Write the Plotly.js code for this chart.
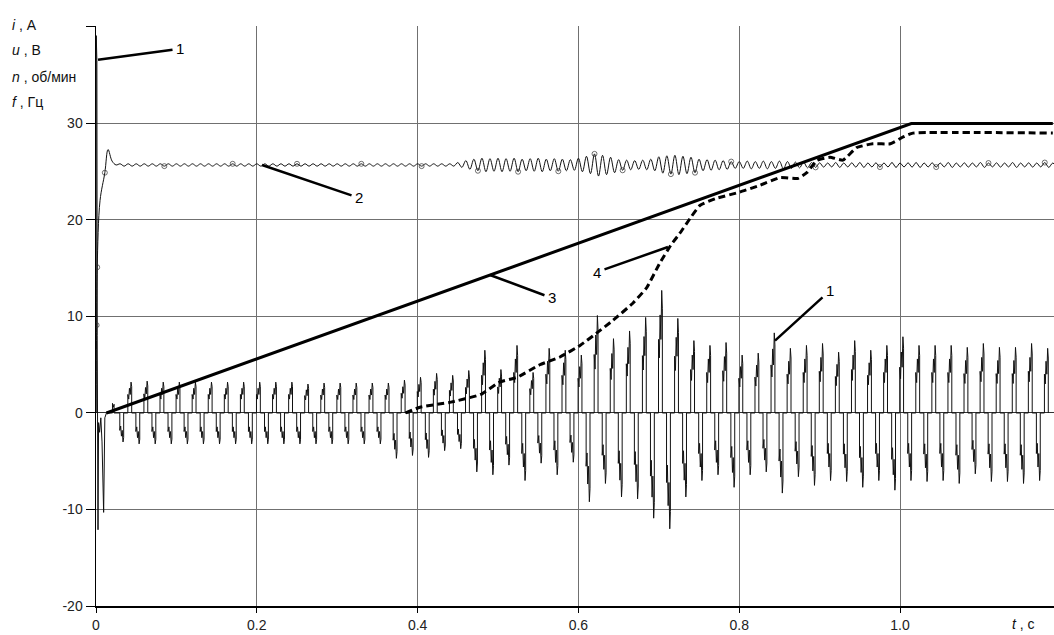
<!DOCTYPE html>
<html><head><meta charset="utf-8">
<script src="https://cdn.plot.ly/plotly-3.0.1.min.js"></script>
<style>html,body{margin:0;padding:0;background:#fff}</style>
</head><body><div id="chart" style="width:1054px;height:635px"></div>
<script>
// ---------- data ----------
const xTicks = [0, 0.2, 0.4, 0.6, 0.8, 1.0];
const xTickLabels = ['0', '0.2', '0.4', '0.6', '0.8', '1.0'];
const yTicks = [-20, -10, 0, 10, 20, 30, 40];
const yTickLabels = ['-20', '-10', '0', '10', '20', '30', ''];

// curve 3: frequency f, Hz
const fT = [0.013, 1.014, 1.19];
const fV = [0, 30, 30];

// curve 4: speed n
const nT = [0.385, 0.403, 0.44, 0.478, 0.502, 0.524, 0.552, 0.577, 0.602, 0.623, 0.643, 0.668, 0.685, 0.701, 0.715, 0.726, 0.74, 0.751, 0.77, 0.801, 0.826, 0.851, 0.873, 0.884, 0.897, 0.913, 0.929, 0.946, 0.966, 0.988, 1.004, 1.016, 1.19];
const nV = [0, 0.6, 1.1, 1.9, 3.2, 3.7, 5.0, 5.8, 7.0, 8.3, 9.6, 11.4, 13.0, 15.5, 17.4, 18.6, 20.3, 21.5, 22.2, 22.9, 23.6, 24.4, 24.3, 24.9, 26.2, 26.5, 26.2, 27.5, 27.9, 27.9, 28.6, 29.0, 29.0];

// curve 2: voltage u (start-up, then level with ripple of given amplitude every 0.01 s)
const uStartT = [0, 0.0008, 0.0015, 0.005, 0.011, 0.015, 0.02, 0.025];
const uStartV = [0, 9.1, 15.1, 22.0, 24.9, 27.3, 26.1, 25.7];
const uLevel = 25.7;
const uRippleStart = 0.03;
const uRippleStep = 0.01;
const uRipple = [
  0.12,0.12,0.12,0.12,0.12,0.12,0.12,0.12,0.12,0.12,
  0.12,0.12,0.12,0.12,0.12,0.12,0.12,0.12,0.12,0.12,
  0.12,0.12,0.12,0.12,0.12,0.12,0.12,0.12,0.12,0.12,
  0.12,0.12,0.12,0.12,0.12,0.12,0.12,0.12,0.12,0.12,
  0.12,0.12,
  0.25,0.45,0.6,0.7,0.65,0.7,0.65,0.7,0.6,0.65,
  0.7,0.6,0.65,0.6,0.55,0.7,0.9,1.15,1.0,0.8,
  0.55,0.5,0.45,0.5,0.6,0.85,0.95,1.0,0.9,0.8,
  0.6,0.55,0.5,0.45,0.35,0.35,0.4,0.35,0.4,0.35,
  0.4,0.35,0.3,0.3,0.25,
  0.22,0.2,0.25,0.2,0.22,0.25,0.2,0.22,0.2,0.25,
  0.2,0.22,0.25,0.2,0.22,0.2,0.25,0.2,0.22,0.2,
  0.25,0.2,0.22,0.2,0.25,0.2,0.22,0.2,0.25,0.2
];
const uMarkT = [0.0008, 0.0015, 0.011, 0.086, 0.169, 0.252, 0.33, 0.407, 0.474, 0.524, 0.577, 0.621, 0.654, 0.714, 0.745, 0.791, 0.894, 0.975, 1.047, 1.112, 1.18];

// curve 1: current i (start-up, then one negative and one positive pulse per 0.02 s)
const iStartT = [0, 0.0003, 0.0007, 0.0011, 0.0015, 0.0019, 0.0025, 0.0032, 0.0045, 0.006, 0.0075, 0.0095, 0.011, 0.013, 0.0205, 0.0205, 0.0215, 0.0225, 0.0225];
const iStartV = [0, 39.1, 27, 36.5, 8, 0, -12.1, -1, -2, -0.5, -3, -10.3, -0.5, 0, 0, 1.0, 0.6, 0.9, 0];
const iNegStart = 0.032;
const iPosStart = 0.042;
const iPeriod = 0.02;
const iPos = [3.2,3.3,3.2,3.2,3.2,3.2,3.2,3.2,3.2,3.2,3.2,
  3.0,3.1,3.1,3.1,3.1,3.1,3.4,3.7,4.1,3.9,
  4.4,6.5,4.5,7.0,4.2,6.7,6.5,6.0,10.1,7.7,
  8.5,9.9,12.7,9.8,7.5,7.0,7.3,6.0,6.2,8.3,
  6.7,7.0,7.2,6.3,7.5,6.5,7.0,7.9,7.0,7.0,
  7.0,6.8,7.2,6.8,6.8,7.2,6.7];
const iNeg = [-3.0,-3.2,-3.2,-3.2,-3.2,-3.2,-3.2,-3.2,-3.2,-3.2,-3.2,-3.2,
  -3.2,-3.2,-3.2,-3.2,-3.2,-4.7,-4.4,-4.6,-3.9,
  -3.7,-6.1,-6.4,-5.4,-7.0,-5.2,-6.4,-5.1,-9.2,-7.3,
  -8.7,-8.9,-10.9,-12.0,-8.7,-7.0,-6.4,-7.7,-6.4,-6.1,
  -8.3,-6.6,-7.5,-7.0,-7.1,-7.7,-7.0,-8.0,-7.0,-7.1,
  -7.0,-7.3,-6.3,-7.1,-7.1,-7.3,-7.0];

// ---------- build series ----------
const uT = uStartT.slice(), uV = uStartV.slice();
uRipple.forEach((a, j) => {
  const t = uRippleStart + j * uRippleStep;
  uT.push(t); uV.push(uLevel + a);
  uT.push(t + uRippleStep / 2); uV.push(uLevel - a);
});
const uSize = uT.map(() => 0);
uMarkT.forEach(tm => {
  let best = 0;
  uT.forEach((t, i) => { if (Math.abs(t - tm) < Math.abs(uT[best] - tm)) best = i; });
  uSize[best] = 5;
});

const iT = iStartT.slice(), iV = iStartV.slice();
const pulseShape = [[-0.0024,0],[-0.0024,0.6],[-0.0013,0.45],[-0.0004,0.8],[0.0006,0.6],[0.0016,1],[0.0024,0.85],[0.0024,0]];
function addPulse(tc, a) {
  pulseShape.forEach(([dt, f]) => { iT.push(tc + dt); iV.push(a * f); });
}
for (let k = 0; k < iPos.length; k++) {
  addPulse(iNegStart + k * iPeriod, iNeg[k]);
  addPulse(iPosStart + k * iPeriod, iPos[k]);
}

const traces = [
  {x: iT, y: iV, mode: 'lines', line: {color: '#111', width: 1}, hoverinfo: 'skip'},
  {x: uT, y: uV, mode: 'lines+markers', line: {color: '#111', width: 1, shape: 'spline', smoothing: 1},
   marker: {symbol: 'circle-open', size: uSize, color: '#333', line: {width: 1}}, hoverinfo: 'skip'},
  {x: fT, y: fV, mode: 'lines', line: {color: '#000', width: 3}, hoverinfo: 'skip'},
  {x: nT, y: nV, mode: 'lines', line: {color: '#000', width: 3, dash: '7px,4px', shape: 'spline', smoothing: 0.4}, hoverinfo: 'skip'}
];

const PL = 96, PT = 26, PW = 958, PH = 580;
const px = x => (x - PL) / PW;
const py = y => (PT + PH - y) / PH;
const baseFont = 'Liberation Sans, Arial, sans-serif';
function txt(text, x, y, anchor) {
  return {xref: 'paper', yref: 'paper', x: px(x), y: py(y), xanchor: anchor || 'left', yanchor: 'middle',
    text: text, showarrow: false, font: {family: baseFont, size: 14, color: '#111'}};
}
function lead(text, xd, yd, ax, ay) {
  return {xref: 'x', yref: 'y', x: xd, y: yd, ax: ax, ay: ay, text: text, showarrow: true,
    arrowhead: 0, arrowwidth: 2.5, arrowcolor: '#000', borderpad: 3,
    font: {family: baseFont, size: 15, color: '#000'}};
}

const layout = {
  width: 1054, height: 635,
  margin: {l: PL, r: 0, t: PT, b: 635 - PT - PH, pad: 0},
  paper_bgcolor: '#fff', plot_bgcolor: '#fff',
  showlegend: false,
  font: {family: baseFont, size: 14, color: '#222'},
  xaxis: {range: [0, 1.1915], tickvals: xTicks, ticktext: xTickLabels, showgrid: true,
    gridcolor: '#707070', gridwidth: 1, showline: true, linecolor: '#000', linewidth: 2,
    ticks: 'outside', ticklen: 5, tickcolor: '#000', zeroline: false, ticklabelstandoff: 0,
    tickfont: {size: 14, color: '#222'}},
  yaxis: {range: [-20, 40.1], tickvals: yTicks, ticktext: yTickLabels, showgrid: true,
    gridcolor: '#707070', gridwidth: 1, showline: true, linecolor: '#000', linewidth: 1.5,
    ticks: 'outside', ticklen: 9, tickcolor: '#000', zeroline: true, zerolinecolor: '#333', zerolinewidth: 1,
    tickfont: {size: 14, color: '#222'}},
  annotations: [
    txt('<i>i</i> , А', 10, 25),
    txt('<i>u</i> , В', 10, 50),
    txt('<i>n</i> , об/мин', 10, 77),
    txt('<i>f</i> , Гц', 10, 102),
    txt('<i>t</i> , с', 1010, 624),
    lead('1', 0.0025, 36.6, 82, -11),
    lead('2', 0.2065, 25.7, 97, 33),
    lead('3', 0.49, 14.3, 62, 23),
    lead('4', 0.7114, 17.2, -71, 25),
    lead('1', 0.8445, 7.5, 55, -50)
  ]
};

Plotly.newPlot('chart', traces, layout, {staticPlot: true, displayModeBar: false});
</script>
</body></html>
